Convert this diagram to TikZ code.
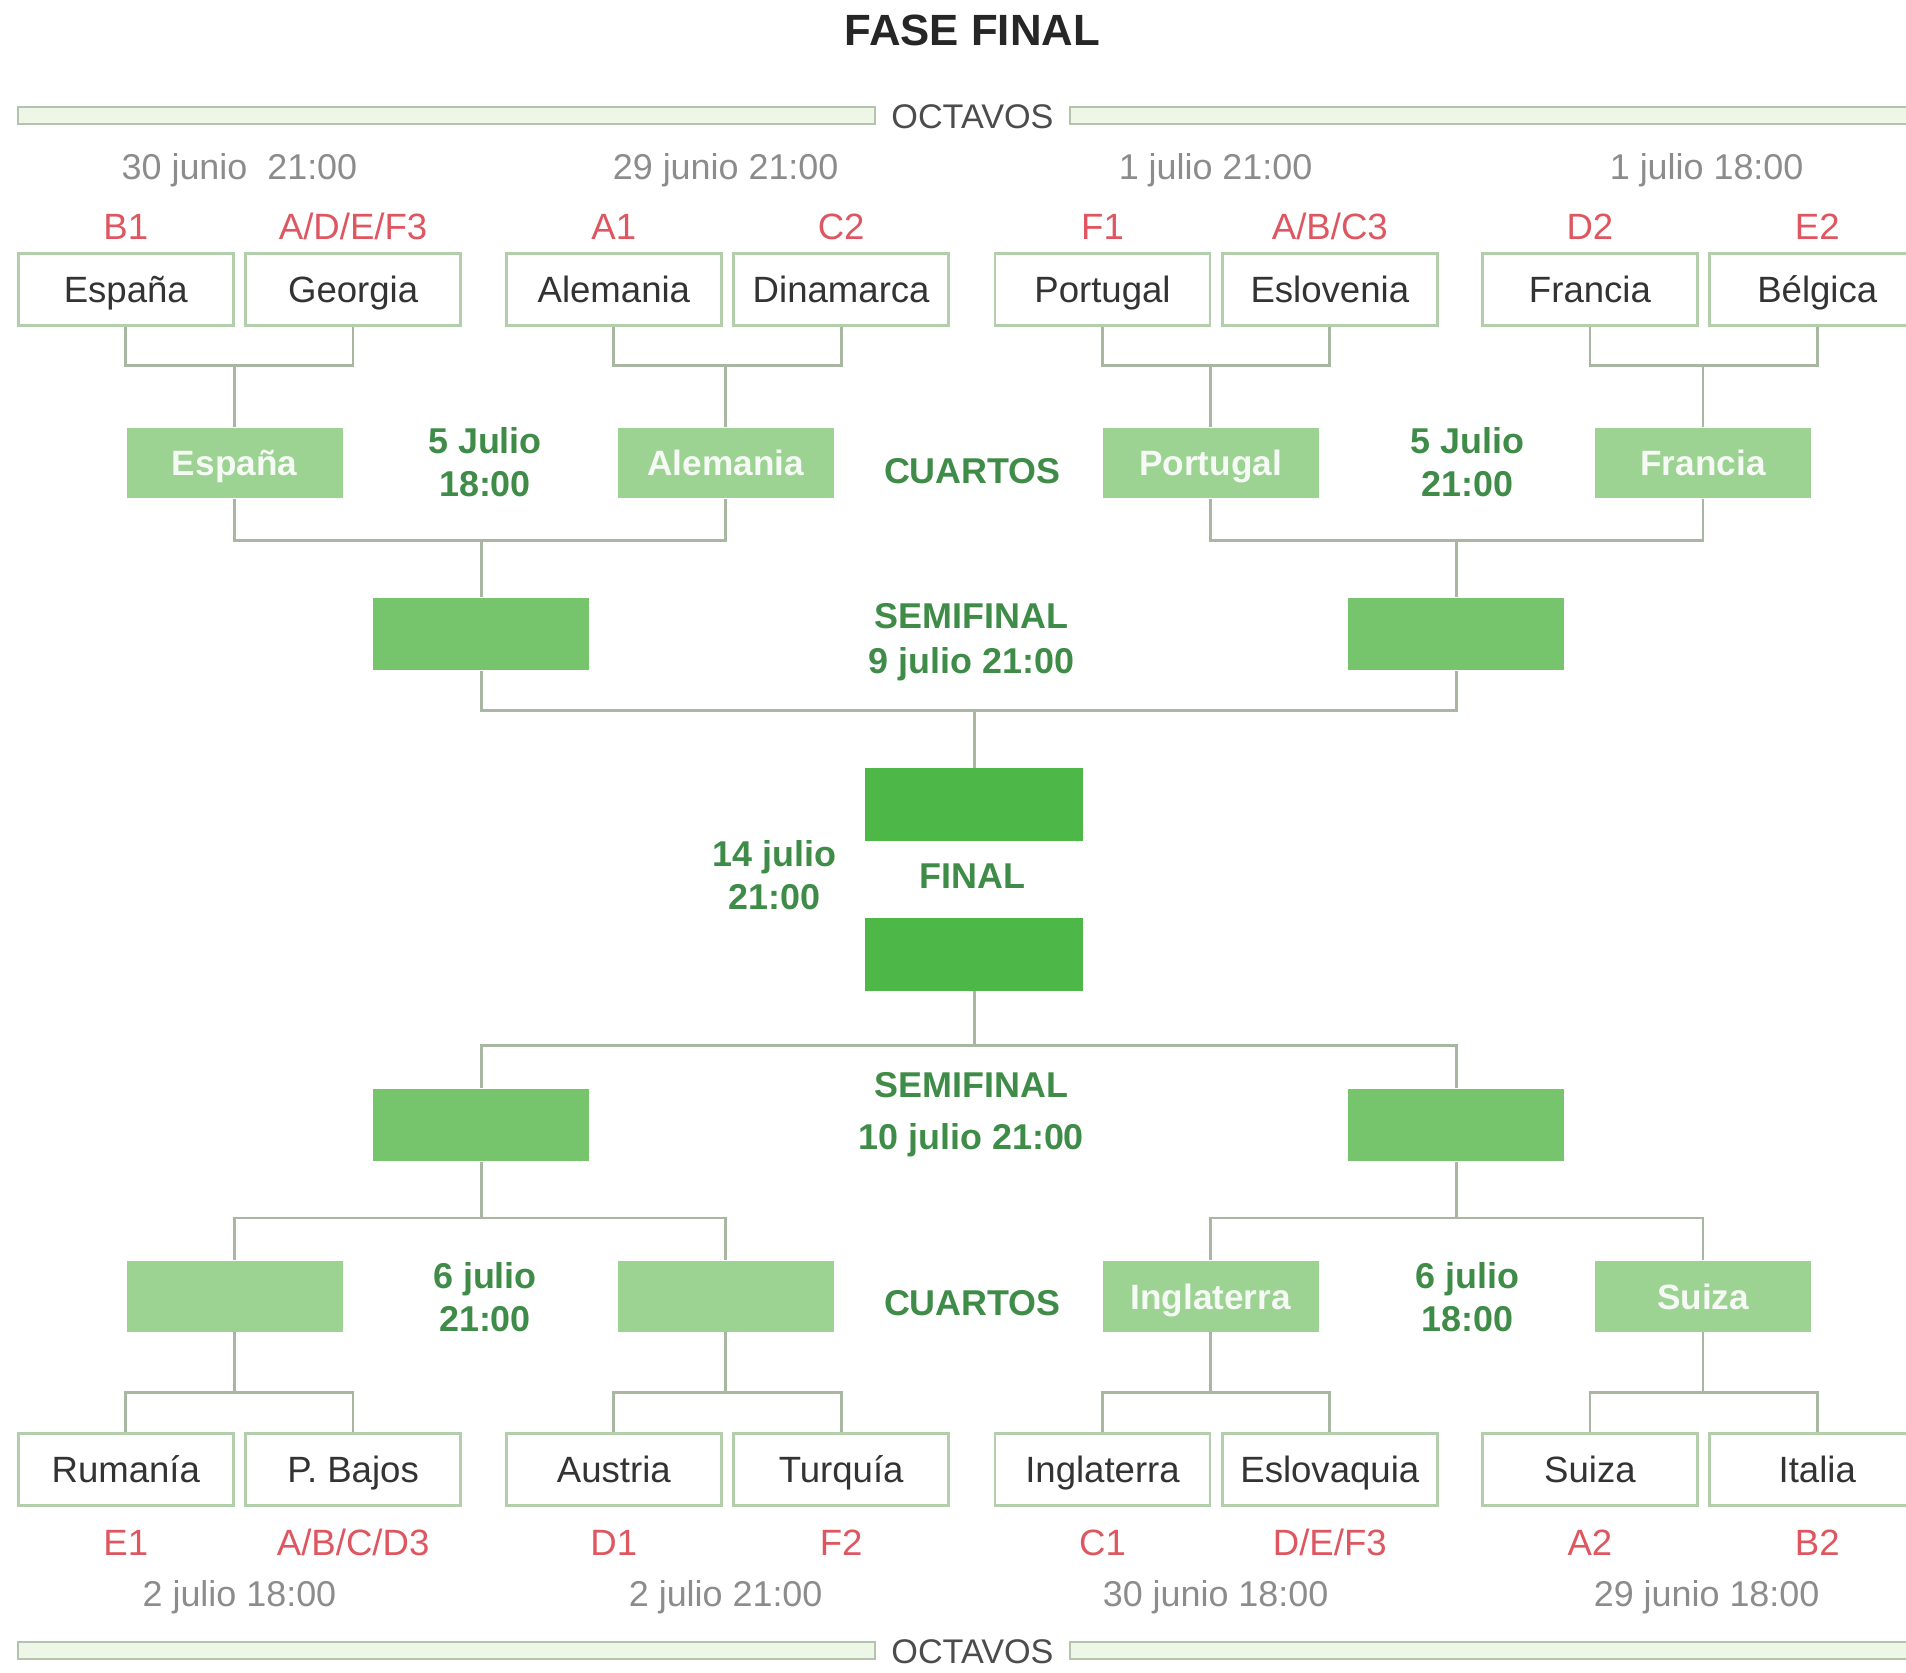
\documentclass[tikz,border=0pt]{standalone}
\usepackage{fontspec}
\setmainfont{Liberation Sans}
\usetikzlibrary{positioning}

\definecolor{boxline}{HTML}{B2CEAB}
\definecolor{linkgray}{HTML}{A9B7A2}
\definecolor{qgreen}{HTML}{9CD292}
\definecolor{sgreen}{HTML}{76C46C}
\definecolor{fgreen}{HTML}{4DB748}
\definecolor{txtgreen}{HTML}{3F8C48}
\definecolor{grpred}{HTML}{DE5660}
\definecolor{dategray}{HTML}{8C8C8C}
\definecolor{bandfill}{HTML}{EEF6E8}
\definecolor{bandline}{HTML}{B4C4AC}

\tikzset{
  team/.style={draw=boxline,line width=0.8pt,fill=white,minimum width=2.21cm,minimum height=0.74cm,inner sep=0pt,
    text=black!80,text height=7.7pt,text depth=0pt,font=\fontsize{10.7}{12}\selectfont},
  grp/.style={inner sep=0pt,text=grpred,text height=7.7pt,text depth=0pt,font=\fontsize{10.7}{12}\selectfont},
  date/.style={inner sep=0pt,text=dategray,text height=7.5pt,text depth=0pt,font=\fontsize{10.5}{12}\selectfont},
  qbox/.style={fill=qgreen,minimum width=2.22cm,minimum height=0.725cm,inner sep=0pt,
    text=white!90!qgreen,text height=7.5pt,text depth=0pt,font=\bfseries\fontsize{10.3}{12}\selectfont},
  sbox/.style={fill=sgreen,minimum width=2.22cm,minimum height=0.74cm,inner sep=0pt},
  fbox/.style={fill=fgreen,minimum width=2.24cm,minimum height=0.75cm,inner sep=0pt},
  round/.style={inner sep=0pt,align=center,text=txtgreen,font=\bfseries\fontsize{10.5}{12.6}\selectfont},
  octv/.style={inner sep=0pt,text=black!70,text height=7.2pt,text depth=0pt,font=\fontsize{10}{12}\selectfont},
  band/.style={draw=bandline,fill=bandfill,line width=0.7pt},
  link/.style={draw=linkgray,line width=0.8pt}
}

\begin{document}
\begin{tikzpicture}[x=0.0125cm,y=-0.0125cm]
\clip (0,0) rectangle (1568,1376);
\fill[white] (0,0) rectangle (1568,1376);

\node[font=\bfseries\fontsize{12.8}{14}\selectfont,text=black!85] (title) at (800,25) {FASE FINAL};

% octavos bands
\draw[band] (15,88) rectangle (720,102);
\draw[band] (880,88) rectangle (1590,102);
\node[octv] (oct1) at (800,96) {OCTAVOS};
\draw[band] (15,1351) rectangle (720,1365);
\draw[band] (880,1351) rectangle (1590,1365);
\node[octv] (oct2) at (800,1358) {OCTAVOS};

% dates octavos
\node[date] (d1) at (197,137) {30 junio \ 21:00};
\node[date] (d2) at (597,137) {29 junio 21:00};
\node[date] (d3) at (1000,137) {1 julio 21:00};
\node[date] (d4) at (1404,137) {1 julio 18:00};
\node[date] (d5) at (197,1311) {2 julio 18:00};
\node[date] (d6) at (597,1311) {2 julio 21:00};
\node[date] (d7) at (1000,1311) {30 junio 18:00};
\node[date] (d8) at (1404,1311) {29 junio 18:00};

% octavos top
\node[team] (esp) at (103.5,238) {España};
\node[team] (geo) at (290.5,238) {Georgia};
\node[team] (ale) at (505,238) {Alemania};
\node[team] (din) at (692,238) {Dinamarca};
\node[team] (por) at (907,238) {Portugal};
\node[team] (eslo) at (1094,238) {Eslovenia};
\node[team] (fra) at (1308,238) {Francia};
\node[team] (bel) at (1495,238) {Bélgica};

\node[grp,above=0.125cm of esp] (g1) {B1};
\node[grp,above=0.125cm of geo] (g2) {A/D/E/F3};
\node[grp,above=0.125cm of ale] (g3) {A1};
\node[grp,above=0.125cm of din] (g4) {C2};
\node[grp,above=0.125cm of por] (g5) {F1};
\node[grp,above=0.125cm of eslo] (g6) {A/B/C3};
\node[grp,above=0.125cm of fra] (g7) {D2};
\node[grp,above=0.125cm of bel] (g8) {E2};

% octavos bottom
\node[team] (rum) at (103.5,1209) {Rumanía};
\node[team] (pba) at (290.5,1209) {P. Bajos};
\node[team] (aus) at (505,1209) {Austria};
\node[team] (tur) at (692,1209) {Turquía};
\node[team] (ing) at (907,1209) {Inglaterra};
\node[team] (eslq) at (1094,1209) {Eslovaquia};
\node[team] (sui) at (1308,1209) {Suiza};
\node[team] (ita) at (1495,1209) {Italia};

\node[grp,below=0.225cm of rum] (g9) {E1};
\node[grp,below=0.225cm of pba] (g10) {A/B/C/D3};
\node[grp,below=0.225cm of aus] (g11) {D1};
\node[grp,below=0.225cm of tur] (g12) {F2};
\node[grp,below=0.225cm of ing] (g13) {C1};
\node[grp,below=0.225cm of eslq] (g14) {D/E/F3};
\node[grp,below=0.225cm of sui] (g15) {A2};
\node[grp,below=0.225cm of ita] (g16) {B2};

% cuartos
\node[qbox] (qf1) at (193,381) {España};
\node[qbox] (qf2) at (597,381) {Alemania};
\node[qbox] (qf3) at (996,381) {Portugal};
\node[qbox] (qf4) at (1401,381) {Francia};
\node[qbox] (qf5) at (193,1066.5) {};
\node[qbox] (qf6) at (597,1066.5) {};
\node[qbox] (qf7) at (996,1066.5) {Inglaterra};
\node[qbox] (qf8) at (1401,1066.5) {Suiza};

% semis and final
\node[sbox] (sf1) at (396,521.5) {};
\node[sbox] (sf2) at (1198,521.5) {};
\node[sbox] (sf3) at (396,925.5) {};
\node[sbox] (sf4) at (1198,925.5) {};
\node[fbox] (fin1) at (801.5,662) {};
\node[fbox] (fin2) at (801.5,785) {};

% round labels
\node[round] (r1) at (399,380) {5 Julio\\18:00};
\node[round] (r2) at (800,388) {CUARTOS};
\node[round] (r3) at (1207,380) {5 Julio\\21:00};
\node[round] (r4) at (799,528) {SEMIFINAL\\[0.6pt]9 julio 21:00};
\node[round] (r5) at (637,720) {14 julio\\21:00};
\node[round] (r6) at (800,721) {FINAL};
\node[round] (r7) at (799,917) {SEMIFINAL\\[2.4pt]10 julio 21:00};
\node[round] (r8) at (399,1067) {6 julio\\21:00};
\node[round] (r9) at (800,1072) {CUARTOS};
\node[round] (r10) at (1207,1067) {6 julio\\18:00};

% octavos -> cuartos
\draw[link] (esp.south) -- ++(0,32) coordinate (o1) -| (geo.south);
\draw[link] (qf1.north) -- (qf1.north |- o1);
\draw[link] (ale.south) -- ++(0,32) coordinate (o2) -| (din.south);
\draw[link] (qf2.north) -- (qf2.north |- o2);
\draw[link] (por.south) -- ++(0,32) coordinate (o3) -| (eslo.south);
\draw[link] (qf3.north) -- (qf3.north |- o3);
\draw[link] (fra.south) -- ++(0,32) coordinate (o4) -| (bel.south);
\draw[link] (qf4.north) -- (qf4.north |- o4);
\draw[link] (rum.north) -- ++(0,-33) coordinate (o5) -| (pba.north);
\draw[link] (qf5.south) -- (qf5.south |- o5);
\draw[link] (aus.north) -- ++(0,-33) coordinate (o6) -| (tur.north);
\draw[link] (qf6.south) -- (qf6.south |- o6);
\draw[link] (ing.north) -- ++(0,-33) coordinate (o7) -| (eslq.north);
\draw[link] (qf7.south) -- (qf7.south |- o7);
\draw[link] (sui.north) -- ++(0,-33) coordinate (o8) -| (ita.north);
\draw[link] (qf8.south) -- (qf8.south |- o8);

% cuartos -> semis
\draw[link] (qf1.south) -- ++(0,34) coordinate (c1) -| (qf2.south);
\draw[link] (sf1.north) -- (sf1.north |- c1);
\draw[link] (qf3.south) -- ++(0,34) coordinate (c2) -| (qf4.south);
\draw[link] (sf2.north) -- (sf2.north |- c2);
\draw[link] (qf5.north) -- ++(0,-35) coordinate (c3) -| (qf6.north);
\draw[link] (sf3.south) -- (sf3.south |- c3);
\draw[link] (qf7.north) -- ++(0,-35) coordinate (c4) -| (qf8.north);
\draw[link] (sf4.south) -- (sf4.south |- c4);

% semis -> final
\draw[link] (sf1.south) -- ++(0,33) coordinate (s1) -| (sf2.south);
\draw[link] (fin1.north) -- (fin1.north |- s1);
\draw[link] (sf3.north) -- ++(0,-35) coordinate (s2) -| (sf4.north);
\draw[link] (fin2.south) -- (fin2.south |- s2);
\end{tikzpicture}
\end{document}
